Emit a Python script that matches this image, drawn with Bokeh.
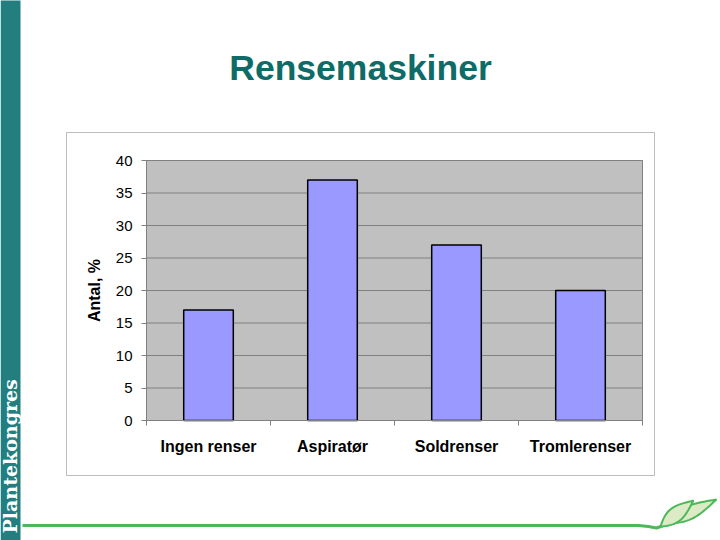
import math
from bokeh.plotting import figure
from bokeh.models import Range1d, FixedTicker, LinearAxis
from bokeh.core.properties import value
from bokeh.embed import file_html
from bokeh.resources import INLINE

# ---- data ----
categories = ["Ingen renser", "Aspiratør", "Soldrenser", "Tromlerenser"]
values = [17, 37, 27, 20]
y_ticks = [0, 5, 10, 15, 20, 25, 30, 35, 40]
title_text = "Rensemaskiner"
y_label = "Antal, %"
side_text = "Plantekongres"

# ---- layout (reference pixel coordinates) ----
W, H = 720, 540
FL, FR, FT, FB = 146, 642, 160, 420      # plot area in page pixels
NX = len(categories)
Y0, Y1 = y_ticks[0], y_ticks[-1]
SX = (FR - FL) / NX                      # px per category
SY = (FB - FT) / (Y1 - Y0)               # px per unit


def dx(px):
    return (px - FL) / SX


def dy(py):
    return Y0 + (FB - py) / SY


x_pos = [i + 0.5 for i in range(NX)]

p = figure(width=W, height=H, output_backend="svg", toolbar_location=None,
           x_range=Range1d(dx(0), dx(W)), y_range=Range1d(dy(H), dy(0)),
           x_axis_type=None, y_axis_type=None,
           min_border=0, min_border_left=0, min_border_right=0,
           min_border_top=0, min_border_bottom=0)
p.background_fill_color = "white"
p.border_fill_color = "white"
p.outline_line_color = None
p.grid.visible = False

FONT = value("Liberation Sans")

# side bar
p.quad(left=[dx(0)], right=[dx(20)], top=[dy(-5)], bottom=[dy(545)],
       fill_color="#237E80", line_color=None)
p.text(x=[dx(9.5)], y=[dy(533)], text=[side_text], angle=math.pi / 2,
       text_font=value("DejaVu Serif"), text_font_style="bold", text_font_size="19px",
       text_color="white", text_align="left", text_baseline="middle")

# title
p.text(x=[dx(360)], y=[dy(67)], text=[title_text], text_font=FONT,
       text_font_style="bold", text_font_size="35.5px", text_color="#0E6B68",
       text_align="center", text_baseline="middle")

# chart frame
p.quad(left=[dx(66)], right=[dx(654)], top=[dy(132)], bottom=[dy(475)],
       fill_color="white", line_color="#BDBDBD", line_width=1)

# plot area
p.quad(left=[0], right=[NX], bottom=[Y0], top=[Y1], fill_color="#C0C0C0", line_color=None)
p.segment(x0=[0] * len(y_ticks), x1=[NX] * len(y_ticks), y0=y_ticks, y1=y_ticks,
          line_color="#808080", line_width=1)
p.quad(left=[0], right=[NX], bottom=[Y0], top=[Y1], fill_color=None,
       line_color="#808080", line_width=1)

# bars
p.vbar(x=x_pos, top=values, width=0.4, bottom=0,
       fill_color="#9999FF", line_color="black", line_width=1.5)

# axes
yax = LinearAxis(fixed_location=0, bounds=(Y0, Y1), ticker=FixedTicker(ticks=y_ticks))
yax.axis_line_color = "#808080"
yax.major_tick_line_color = "#808080"
yax.major_tick_out = 5
yax.major_tick_in = 0
yax.minor_tick_line_color = None
yax.major_label_text_font = "Liberation Sans"
yax.major_label_text_font_size = "15px"
yax.major_label_text_color = "black"
yax.major_label_standoff = 9
yax.axis_label = y_label
yax.axis_label_text_font = "Liberation Sans"
yax.axis_label_text_font_style = "bold"
yax.axis_label_text_font_size = "16px"
yax.axis_label_text_color = "black"
yax.axis_label_standoff = 10
p.add_layout(yax, "left")

xax = LinearAxis(fixed_location=0, bounds=(0, NX),
                 ticker=FixedTicker(ticks=x_pos, minor_ticks=list(range(NX + 1))))
xax.major_label_overrides = {x: c for x, c in zip(x_pos, categories)}
xax.axis_line_color = "#808080"
xax.major_tick_line_color = None
xax.major_tick_out = 0
xax.major_tick_in = 0
xax.minor_tick_line_color = "#808080"
xax.minor_tick_out = 5
xax.minor_tick_in = 0
xax.major_label_text_font = "Liberation Sans"
xax.major_label_text_font_style = "bold"
xax.major_label_text_font_size = "16px"
xax.major_label_text_color = "black"
xax.major_label_standoff = 12
p.add_layout(xax, "below")

# bottom green line and leaf
green = "#4CB85A"
line_x = [22, 638, 648, 656, 663]
line_y = [525, 525, 526, 527.5, 525]
p.line(x=[dx(v) for v in line_x], y=[dy(v) for v in line_y], line_color=green,
       line_width=3, line_join="round")


def leaf(x0, y0, x1, y1, w, n=18):
    ddx, ddy = x1 - x0, y1 - y0
    L = math.hypot(ddx, ddy)
    nx, ny = -ddy / L, ddx / L
    xs, ys = [], []
    for k in range(n + 1):
        t = k / n
        o = w * math.sin(math.pi * t) * (1 - 0.4 * t)
        xs.append(x0 + ddx * t + nx * o)
        ys.append(y0 + ddy * t + ny * o)
    for k in range(n, -1, -1):
        t = k / n
        o = w * math.sin(math.pi * t) * (1 - 0.4 * t)
        xs.append(x0 + ddx * t - nx * o)
        ys.append(y0 + ddy * t - ny * o)
    return [dx(v) for v in xs], [dy(v) for v in ys]


for (x0, y0, x1, y1, w) in [(667, 523, 716, 499, 8), (660, 526, 693, 500, 9)]:
    xs, ys = leaf(x0, y0, x1, y1, w)
    p.patch(x=xs, y=ys, fill_color="#DCEBC6", line_color=green, line_width=2)

open("out.html", "w").write(file_html(p, INLINE))
